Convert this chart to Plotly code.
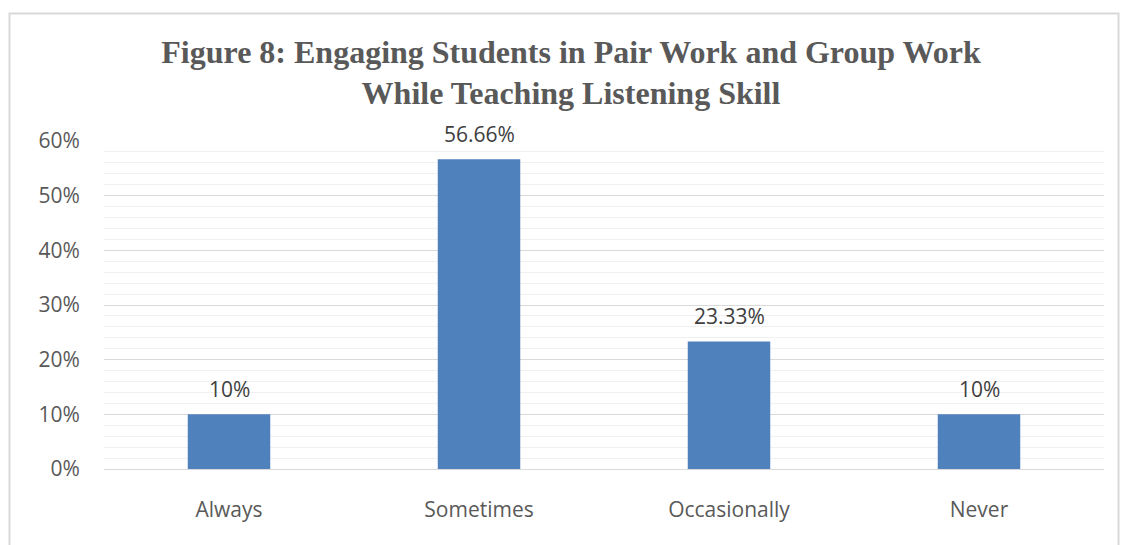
import plotly.graph_objects as go

categories = ["Always", "Sometimes", "Occasionally", "Never"]
values = [10, 56.66, 23.33, 10]
value_labels = ["10%", "56.66%", "23.33%", "10%"]
y_tick_vals = [0, 10, 20, 30, 40, 50, 60]
y_tick_text = ["0%", "10%", "20%", "30%", "40%", "50%", "60%"]

W, H = 1121, 545
L, R, T, B = 104, 17, 141, 76
pw, ph = W - L - R, H - T - B
FONT = "Open Sans, Lato, sans-serif"

fig = go.Figure(
    go.Bar(
        x=categories,
        y=values,
        marker=dict(color="#4F81BD", line=dict(width=0)),
        width=0.33,
        hoverinfo="skip",
    )
)

# value labels above each bar
for cat, val, lab in zip(categories, values, value_labels):
    fig.add_annotation(
        x=cat, y=val, text=lab, showarrow=False,
        yanchor="bottom", yshift=9,
        font=dict(family=FONT, size=21, color="#404040"),
    )

# outer chart frame
fig.add_shape(
    type="rect", xref="paper", yref="paper",
    x0=(9.5 - L) / pw, x1=(1118.5 - L) / pw,
    y0=(H - B - 560) / ph, y1=(H - B - 13.5) / ph,
    line=dict(color="#D9D9D9", width=2), fillcolor="rgba(0,0,0,0)", layer="below",
)

fig.update_layout(
    width=W, height=H,
    margin=dict(l=L, r=R, t=T, b=B),
    paper_bgcolor="white", plot_bgcolor="white",
    showlegend=False,
    title=dict(
        text="<b>Figure 8: Engaging Students in Pair Work and Group Work<br>While Teaching Listening Skill</b>",
        x=571 / W, xanchor="center",
        y=1 - 62.5 / H, yanchor="middle",
        font=dict(family="Liberation Serif, Times New Roman, serif", size=32, color="#595959"),
    ),
    xaxis=dict(
        showgrid=False, showline=True, linecolor="#D9D9D9", linewidth=1,
        ticks="outside", ticklen=22, tickcolor="rgba(0,0,0,0)",
        tickfont=dict(family=FONT, size=21, color="#595959"),
        fixedrange=True,
    ),
    yaxis=dict(
        range=[0, 60], tickvals=y_tick_vals, ticktext=y_tick_text,
        showgrid=True, gridcolor="#D9D9D9", gridwidth=1,
        minor=dict(dtick=2, showgrid=True, gridcolor="#F0F0F0", gridwidth=1),
        zeroline=False, showline=False,
        ticks="outside", ticklen=19, tickcolor="rgba(0,0,0,0)",
        tickfont=dict(family=FONT, size=21, color="#595959"),
        fixedrange=True,
    ),
)

fig.write_html("out.html")
